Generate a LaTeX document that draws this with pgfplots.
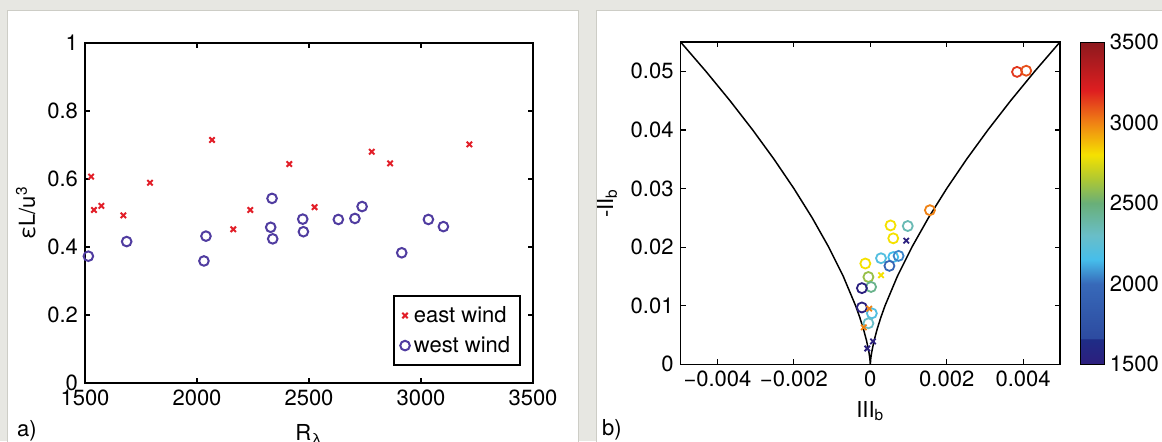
\documentclass[border=0pt]{standalone}
\usepackage{fontspec}
\setmainfont{TeX Gyre Heros}
\usepackage{pgfplots}
\usepackage{pgfplotstable}
\pgfplotsset{compat=1.18}

\definecolor{bggray}{RGB}{231,231,226}
\definecolor{edgegray}{RGB}{205,205,198}
\definecolor{eastred}{RGB}{226,30,40}
\definecolor{westpurple}{RGB}{80,60,160}

\newcommand\lbl{\fontsize{11}{13}\selectfont}

\pgfkeys{/pgf/number format/1000 sep={}}
\pgfplotsset{every axis/.append style={
  tick label style={font=\lbl},
  label style={font=\lbl},
  /pgf/number format/assume math mode=true,
  axis line style={line width=0.9pt},
  major tick length=2.5pt,
  tick style={black, line width=0.6pt}
}}

% panel a
\pgfplotstableread{
R eps
1527 0.607
1540 0.509
1573 0.521
1671 0.493
1790 0.589
2067 0.715
2162 0.452
2238 0.509
2412 0.644
2525 0.517
2780 0.680
2862 0.646
3216 0.702
}\eastwind

\pgfplotstableread{
R eps
1515 0.373
1686 0.416
2031 0.359
2040 0.432
2335 0.543
2329 0.458
2338 0.424
2472 0.482
2475 0.445
2631 0.481
2705 0.484
2737 0.519
2914 0.383
3033 0.481
3100 0.460
}\westwind

% panel b: III_b, -II_b, R_lambda
\pgfplotstableread{
III II R
0.00384 0.0499 3150
0.00408 0.0501 3100
0.00156 0.0263 3000
0.00053 0.0237 2800
0.00098 0.0236 2350
0.00060 0.0215 2800
0.00028 0.0181 2200
0.00060 0.0183 2150
0.00074 0.0185 2050
0.00050 0.0168 1950
-0.00013 0.0172 2800
-0.00005 0.0149 2600
0.00002 0.0132 2450
-0.00022 0.0130 1520
-0.00022 0.0097 1520
0.00004 0.0087 2200
-0.00005 0.0070 2300
}\bcirc

\pgfplotstableread{
III II R
0.00094 0.0211 1520
0.00028 0.0152 2800
-0.00003 0.0095 3000
-0.00017 0.0063 3000
0.00007 0.0039 1520
-0.00008 0.0027 1520
}\bcross

% boundary -II = 3 (|III|/2)^(2/3)
\pgfplotstableread{
III II
-0.0049647 0.055
-0.0043033 0.050
-0.0036742 0.045
-0.0030792 0.040
-0.0025202 0.035
-0.0020000 0.030
-0.0015215 0.025
-0.0010887 0.020
-0.0007071 0.015
-0.0003849 0.010
-0.0002754 0.008
-0.0001789 0.006
-0.0000974 0.004
-0.0000344 0.002
-0.0000122 0.001
0 0
0.0000122 0.001
0.0000344 0.002
0.0000974 0.004
0.0001789 0.006
0.0002754 0.008
0.0003849 0.010
0.0007071 0.015
0.0010887 0.020
0.0015215 0.025
0.0020000 0.030
0.0025202 0.035
0.0030792 0.040
0.0036742 0.045
0.0043033 0.050
0.0049647 0.055
}\lumley

\begin{document}
\begin{tikzpicture}
\useasboundingbox (0,0) rectangle (581pt,220.5pt);
\fill[bggray] (0,0) rectangle (581pt,220.5pt);
\filldraw[fill=white, draw=edgegray, line width=0.5pt] (3.5pt,-1pt) rectangle (289pt,215.5pt);
\filldraw[fill=white, draw=edgegray, line width=0.5pt] (298pt,-1pt) rectangle (582pt,215.5pt);

\begin{axis}[
  at={(42.5pt,29pt)}, anchor=south west,
  scale only axis, width=224pt, height=170pt,
  xmin=1500, xmax=3500, ymin=0, ymax=1,
  xtick={1500,2000,2500,3000,3500},
  ytick={0,0.2,0.4,0.6,0.8,1},
  xlabel={R\textsubscript{λ}},
  ylabel={εL/u\textsuperscript{3}},
  xlabel style={yshift=-2.5pt},
  ylabel style={yshift=-1pt},
  legend style={at={(1,0)}, anchor=south east, xshift=-6pt, yshift=8.5pt,
    draw=black, line width=0.9pt, font=\lbl, row sep=1.5pt,
    inner xsep=3pt, inner ysep=3pt},
  legend cell align=left
]
\addplot[only marks, mark=x, mark size=1.9pt, eastred, line width=1pt] table[x=R, y=eps] {\eastwind};
\addplot[only marks, mark=o, mark size=2.4pt, westpurple, line width=1pt] table[x=R, y=eps] {\westwind};
\legend{east wind, west wind}
\end{axis}

\begin{axis}[
  at={(340.3pt,38.35pt)}, anchor=south west,
  scale only axis, width=189.7pt, height=161.15pt,
  xmin=-0.0049647, xmax=0.0049647, ymin=0, ymax=0.055,
  xtick={-0.004,-0.002,0,0.002,0.004},
  xticklabels={−0.004,−0.002,0,0.002,0.004},
  ytick={0,0.01,0.02,0.03,0.04,0.05},
  yticklabels={0,0.01,0.02,0.03,0.04,0.05},
  scaled x ticks=false, scaled y ticks=false,
  xlabel={III\textsubscript{b}},
  ylabel={-II\textsubscript{b}},
  axis line style={line width=0.7pt},
  colormap={scan}{rgb255(0)=(45,30,125); rgb255(1.6)=(30,45,135); rgb255(1.61)=(45,75,160);
    rgb255(5)=(55,105,185); rgb255(6.5)=(70,190,235); rgb255(8)=(105,190,200);
    rgb255(10)=(105,175,120); rgb255(11.5)=(175,200,50); rgb255(13)=(245,225,0);
    rgb255(15)=(240,130,20); rgb255(17)=(222,30,32); rgb255(20)=(140,25,30)},
  point meta min=1500, point meta max=3500,
  colorbar,
  colorbar style={
    at={(parent axis.north east)}, anchor=north west, xshift=1.9pt,
    width=12pt, height=161.15pt, scale only axis,
    ytick={1500,2000,2500,3000,3500},
    yticklabel style={xshift=-1pt},
    axis line style={line width=0.5pt},
    major tick length=0pt
  }
]
\addplot[black, line width=0.75pt] table[x=III, y=II] {\lumley};
\addplot[scatter, only marks, mark=o, mark size=2.5pt, line width=0.9pt,
  scatter/use mapped color={draw=mapped color}, point meta=explicit]
  table[x=III, y=II, meta=R] {\bcirc};
\addplot[scatter, only marks, mark=x, mark size=1.9pt, line width=0.9pt,
  scatter/use mapped color={draw=mapped color}, point meta=explicit]
  table[x=III, y=II, meta=R] {\bcross};
\end{axis}

\node[font=\lbl, anchor=west] at (5pt,5pt) {a)};
\node[font=\lbl, anchor=west] at (297.5pt,5.5pt) {b)};
\end{tikzpicture}
\end{document}
